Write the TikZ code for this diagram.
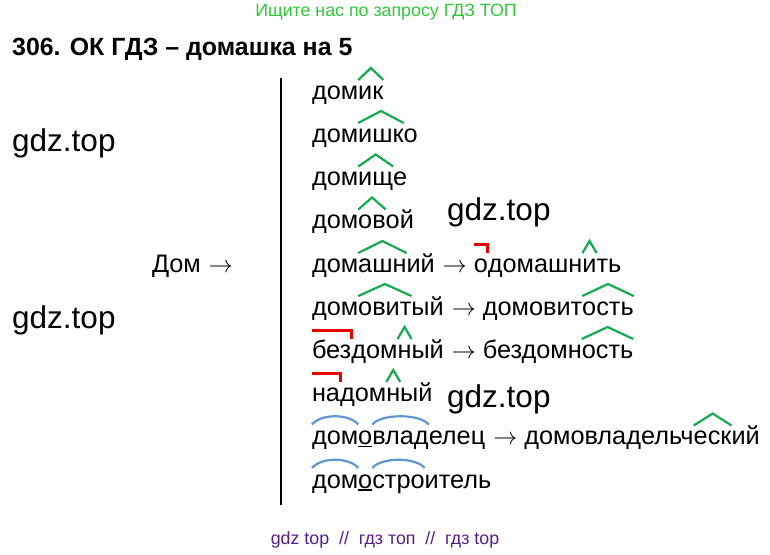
\documentclass[tikz,border=0pt]{standalone}
\usepackage{graphicx}
\usepackage{fontspec}
\setmainfont{Liberation Sans}
\definecolor{hdrgreen}{RGB}{46,200,60}
\definecolor{sufgreen}{RGB}{20,170,80}
\definecolor{prered}{RGB}{235,0,0}
\definecolor{rootblue}{RGB}{95,150,210}
\definecolor{botpurple}{RGB}{85,30,140}
\newcommand\wf{\fontsize{25.3}{30}\selectfont}
\newcommand\arr{\kern8pt\resizebox{24pt}{!}{$\rightarrow$}\kern7pt}
\newcommand\sufm[1]{\draw[sufmark] ([yshift=19pt]#1.base west) -- ([yshift=31pt]#1.base) -- ([yshift=19pt]#1.base east);}
\newcommand\prem[1]{\draw[premark] ([yshift=28pt]#1.base west) -- ([yshift=28pt]#1.base east) -- ([yshift=19pt]#1.base east);}
\newcommand\rootm[1]{\draw[rootmark] ([yshift=20pt]#1.base west) .. controls ([yshift=31pt,xshift=9pt]#1.base west) and ([yshift=31pt,xshift=-9pt]#1.base east) .. ([yshift=20pt]#1.base east);}
\newcommand\undm[1]{\draw[line width=1.6pt] ([yshift=-2pt]#1.base west) -- ([yshift=-2pt]#1.base east);}
\begin{document}
\begin{tikzpicture}[x=1pt,y=-1pt,
  wd/.style={anchor=base west, inner sep=0pt, outer sep=0pt, font=\wf},
  sufmark/.style={draw=sufgreen, line width=2.2pt},
  premark/.style={draw=prered, line width=3pt, line join=miter},
  rootmark/.style={draw=rootblue, line width=2.2pt},
  wm/.style={anchor=base west, inner sep=0pt, font=\fontsize{31.5}{36}\selectfont}]
\useasboundingbox (0,0) rectangle (770,554);

% header
\node[font=\fontsize{17.8}{20}\selectfont, text=hdrgreen, inner sep=0pt] (hdr) at (386,12) {Ищите нас по запросу ГДЗ ТОП};
\node[anchor=base west, inner sep=0pt, font=\bfseries\fontsize{24.9}{28}\selectfont] (title) at (12,55.5) {306. ОК ГДЗ – домашка на 5};

% watermarks
\node[wm] (g1) at (12,151) {gdz.top};
\node[wm] (g2) at (12,328) {gdz.top};
\node[wm] (g3) at (447,220) {gdz.top};
\node[wm] (g4) at (447,407) {gdz.top};

% left word and separator
\node[wd] (dom) at (152,272) {Дом\arr};
\coordinate (vt) at (281,78);
\coordinate (vb) at (281,505);
\draw[line width=1.5pt] (vt) -- (vb);

% 1 домик
\node[wd] (a1) at (312,99) {дом};
\node[wd] (a2) at (a1.base east) {ик};
\sufm{a2}

% 2 домишко
\node[wd] (b1) at (312,142) {дом};
\node[wd] (b2) at (b1.base east) {ишк};
\node[wd] (b3) at (b2.base east) {о};
\sufm{b2}

% 3 домище
\node[wd] (c1) at (312,185.5) {дом};
\node[wd] (c2) at (c1.base east) {ищ};
\node[wd] (c3) at (c2.base east) {е};
\sufm{c2}

% 4 домовой
\node[wd] (d1) at (312,228.5) {дом};
\node[wd] (d2) at (d1.base east) {ов};
\node[wd] (d3) at (d2.base east) {ой};
\sufm{d2}

% 5 домашний -> одомашнить
\node[wd] (e1) at (312,272) {дом};
\node[wd] (e2) at (e1.base east) {ашн};
\node[wd] (e3) at (e2.base east) {ий\arr};
\node[wd] (e4) at (e3.base east) {о};
\node[wd] (e5) at (e4.base east) {домашн};
\node[wd] (e6) at (e5.base east) {и};
\node[wd] (e7) at (e6.base east) {ть};
\sufm{e2}
\prem{e4}
\sufm{e6}

% 6 домовитый -> домовитость
\node[wd] (f1) at (312,315) {дом};
\node[wd] (f2) at (f1.base east) {овит};
\node[wd] (f3) at (f2.base east) {ый\arr};
\node[wd] (f4) at (f3.base east) {домовит};
\node[wd] (f5) at (f4.base east) {ость};
\sufm{f2}
\sufm{f5}

% 7 бездомный -> бездомность
\node[wd] (h1) at (312,358) {без};
\node[wd] (h2) at (h1.base east) {дом};
\node[wd] (h3) at (h2.base east) {н};
\node[wd] (h4) at (h3.base east) {ый\arr};
\node[wd] (h5) at (h4.base east) {бездомн};
\node[wd] (h6) at (h5.base east) {ость};
\prem{h1}
\sufm{h3}
\sufm{h6}

% 8 надомный
\node[wd] (i1) at (312,401) {на};
\node[wd] (i2) at (i1.base east) {дом};
\node[wd] (i3) at (i2.base east) {н};
\node[wd] (i4) at (i3.base east) {ый};
\prem{i1}
\sufm{i3}

% 9 домовладелец -> домовладельческий
\node[wd] (j1) at (312,444.5) {дом};
\node[wd] (j2) at (j1.base east) {о};
\node[wd] (j3) at (j2.base east) {влад};
\node[wd] (j4) at (j3.base east) {елец\arr};
\node[wd] (j5) at (j4.base east) {домовладельч};
\node[wd] (j6) at (j5.base east) {еск};
\node[wd] (j7) at (j6.base east) {ий};
\rootm{j1}
\undm{j2}
\rootm{j3}
\sufm{j6}

% 10 домостроитель
\node[wd] (k1) at (312,488) {дом};
\node[wd] (k2) at (k1.base east) {о};
\node[wd] (k3) at (k2.base east) {стро};
\node[wd] (k4) at (k3.base east) {итель};
\rootm{k1}
\undm{k2}
\rootm{k3}

% footer
\node[font=\fontsize{17.8}{20}\selectfont, text=botpurple, inner sep=0pt] (bot) at (385,540) {gdz top~~//~~гдз топ~~//~~гдз top};
\end{tikzpicture}
\end{document}
